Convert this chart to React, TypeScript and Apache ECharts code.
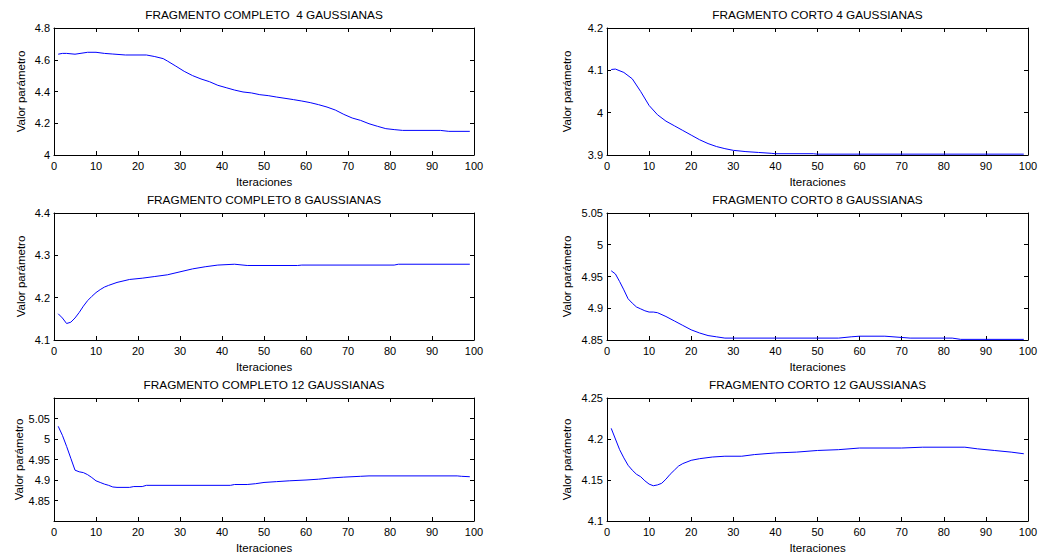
import React, { useEffect, useRef } from "react";
import * as echarts from "echarts";

// Iteration axis
const xTicks = [0, 10, 20, 30, 40, 50, 60, 70, 80, 90, 100];

// FRAGMENTO COMPLETO 4 GAUSSIANAS
const compC4X = [1, 2, 3, 5, 8, 10, 12, 14, 17, 22, 24, 26, 27, 29, 31, 33, 35, 37, 39, 41, 43, 45, 47, 49, 51, 53, 55, 57, 59, 61, 63, 65, 67, 69, 71, 73, 75, 77, 79, 81, 83, 92, 94, 99];
const compC4Y = [4.635, 4.64, 4.64, 4.635, 4.647, 4.647, 4.64, 4.636, 4.63, 4.63, 4.62, 4.607, 4.592, 4.56, 4.527, 4.5, 4.479, 4.462, 4.439, 4.424, 4.409, 4.397, 4.391, 4.38, 4.374, 4.365, 4.357, 4.349, 4.34, 4.33, 4.317, 4.302, 4.283, 4.256, 4.233, 4.218, 4.197, 4.181, 4.166, 4.16, 4.155, 4.155, 4.149, 4.149];

// FRAGMENTO CORTO 4 GAUSSIANAS
const cortC4X = [1, 2, 4, 6, 8, 10, 12, 14, 16, 18, 20, 22, 24, 26, 28, 30, 33, 36, 39, 40, 49, 50, 99];
const cortC4Y = [4.102, 4.103, 4.095, 4.08, 4.05, 4.017, 3.995, 3.98, 3.969, 3.958, 3.947, 3.936, 3.927, 3.92, 3.915, 3.911, 3.908, 3.906, 3.904, 3.903, 3.903, 3.902, 3.902];

// FRAGMENTO COMPLETO 8 GAUSSIANAS
const compC8X = [1, 2, 3, 4, 5, 6, 7, 8, 9, 10, 11, 12, 13, 15, 18, 21, 24, 27, 30, 33, 36, 39, 43, 46, 58, 59, 81, 82, 99];
const compC8Y = [4.162, 4.152, 4.139, 4.142, 4.152, 4.165, 4.18, 4.193, 4.203, 4.212, 4.219, 4.225, 4.229, 4.236, 4.243, 4.246, 4.25, 4.254, 4.261, 4.268, 4.273, 4.277, 4.279, 4.276, 4.276, 4.277, 4.277, 4.279, 4.279];

// FRAGMENTO CORTO 8 GAUSSIANAS
const cortC8X = [1, 2, 3, 4, 5, 6, 7, 8, 9, 10, 11, 12, 14, 16, 18, 20, 22, 24, 26, 28, 30, 55, 58, 60, 66, 70, 72, 82, 84, 99];
const cortC8Y = [4.959, 4.954, 4.942, 4.929, 4.915, 4.908, 4.902, 4.899, 4.896, 4.894, 4.894, 4.893, 4.887, 4.88, 4.873, 4.866, 4.861, 4.857, 4.855, 4.853, 4.853, 4.853, 4.855, 4.856, 4.856, 4.854, 4.853, 4.853, 4.851, 4.851];

// FRAGMENTO COMPLETO 12 GAUSSIANAS
const compC12X = [1, 2, 3, 4, 5, 6, 7, 8, 9, 10, 11, 12, 13, 14, 15, 18, 19, 21, 22, 42, 43, 46, 48, 50, 53, 56, 60, 63, 66, 69, 73, 75, 96, 97, 99];
const compC12Y = [5.031, 5.009, 4.982, 4.953, 4.924, 4.92, 4.918, 4.913, 4.906, 4.898, 4.894, 4.89, 4.887, 4.883, 4.882, 4.882, 4.884, 4.884, 4.887, 4.887, 4.889, 4.889, 4.891, 4.894, 4.896, 4.898, 4.9, 4.902, 4.905, 4.907, 4.909, 4.91, 4.91, 4.909, 4.908];

// FRAGMENTO CORTO 12 GAUSSIANAS
const cortC12X = [1, 2, 3, 4, 5, 6, 7, 8, 9, 10, 11, 12, 13, 14, 15, 16, 17, 18, 19, 20, 22, 25, 28, 32, 35, 40, 45, 50, 55, 60, 70, 75, 85, 88, 92, 96, 99];
const cortC12Y = [4.213, 4.2, 4.187, 4.177, 4.168, 4.162, 4.157, 4.154, 4.149, 4.145, 4.143, 4.144, 4.146, 4.151, 4.157, 4.162, 4.167, 4.17, 4.172, 4.174, 4.176, 4.178, 4.179, 4.179, 4.181, 4.183, 4.184, 4.186, 4.187, 4.189, 4.189, 4.19, 4.19, 4.188, 4.186, 4.184, 4.182];

const titles = [
  "FRAGMENTO COMPLETO  4 GAUSSIANAS",
  "FRAGMENTO CORTO 4 GAUSSIANAS",
  "FRAGMENTO COMPLETO 8 GAUSSIANAS",
  "FRAGMENTO CORTO 8 GAUSSIANAS",
  "FRAGMENTO COMPLETO 12 GAUSSIANAS",
  "FRAGMENTO CORTO 12 GAUSSIANAS",
];
const xName = "Iteraciones";
const yName = "Valor parámetro";

const yMins = [4, 3.9, 4.1, 4.85, 4.8, 4.1];
const yMaxs = [4.8, 4.2, 4.4, 5.05, 5.1, 4.25];
const yIntervals = [0.2, 0.1, 0.1, 0.05, 0.05, 0.05];
const yHideEnds = [false, false, false, false, true, false];

const seriesX = [compC4X, cortC4X, compC8X, cortC8X, compC12X, cortC12X];
const seriesY = [compC4Y, cortC4Y, compC8Y, cortC8Y, compC12Y, cortC12Y];

const FONT = "'Liberation Sans', Arial, Helvetica, sans-serif";

export default function App() {
  const ref = useRef<HTMLDivElement>(null);
  useEffect(() => {
    document.body.style.margin = "0";
    if (!ref.current) return;
    const chart = echarts.init(ref.current, undefined, { renderer: "svg" });

    const lefts = [54, 607];
    const widths = [420, 421];
    const tops = [28, 213, 398];
    const H = 127;
    const nameGaps = [27, 34];

    const grids: any[] = [];
    const xAxes: any[] = [];
    const yAxes: any[] = [];
    const series: any[] = [];
    const graphics: any[] = [];

    titles.forEach((t, i) => {
      const col = i % 2;
      const row = Math.floor(i / 2);
      const left = lefts[col];
      const width = widths[col];
      const top = tops[row];
      grids.push({ left, top, width, height: H, containLabel: false, show: false });

      const tickStyle = { show: true, inside: true, length: 4, lineStyle: { color: "#000", width: 1 } };
      const lineStyle = { show: true, lineStyle: { color: "#000", width: 1 } };
      const lbl = { color: "#000", fontSize: 11, fontFamily: FONT };

      xAxes.push({
        type: "value",
        gridIndex: i,
        position: "bottom",
        min: xTicks[0],
        max: xTicks[xTicks.length - 1],
        interval: xTicks[1] - xTicks[0],
        axisLine: { ...lineStyle, onZero: false },
        axisTick: tickStyle,
        splitLine: { show: false },
        axisLabel: { ...lbl, margin: 5 },
        name: xName,
        nameLocation: "middle",
        nameGap: 21,
        nameTextStyle: { color: "#000", fontSize: 11.5, fontFamily: FONT },
      });
      xAxes.push({
        type: "value",
        gridIndex: i,
        position: "top",
        min: xTicks[0],
        max: xTicks[xTicks.length - 1],
        interval: xTicks[1] - xTicks[0],
        axisLine: { ...lineStyle, onZero: false },
        axisTick: tickStyle,
        splitLine: { show: false },
        axisLabel: { show: false },
      });

      const mn = yMins[i];
      const mx = yMaxs[i];
      const hide = yHideEnds[i];
      yAxes.push({
        type: "value",
        gridIndex: i,
        position: "left",
        min: mn,
        max: mx,
        interval: yIntervals[i],
        axisLine: { ...lineStyle, onZero: false },
        axisTick: tickStyle,
        splitLine: { show: false },
        axisLabel: {
          ...lbl,
          margin: 4,
          formatter: (v: number) => {
            const r = Math.round(v * 1000) / 1000;
            if (hide && (Math.abs(r - mn) < 1e-9 || Math.abs(r - mx) < 1e-9)) return "";
            return String(r);
          },
        },
        name: yName,
        nameLocation: "middle",
        nameGap: nameGaps[col],
        nameTextStyle: { color: "#000", fontSize: 11.5, fontFamily: FONT },
      });
      yAxes.push({
        type: "value",
        gridIndex: i,
        position: "right",
        min: mn,
        max: mx,
        interval: yIntervals[i],
        axisLine: { ...lineStyle, onZero: false },
        axisTick: tickStyle,
        splitLine: { show: false },
        axisLabel: { show: false },
      });

      series.push({
        type: "line",
        xAxisIndex: 2 * i,
        yAxisIndex: 2 * i,
        data: seriesX[i].map((x, k) => [x, seriesY[i][k]]),
        showSymbol: false,
        symbol: "none",
        lineStyle: { color: "#0000ff", width: 1 },
        silent: true,
      });

      graphics.push({
        type: "text",
        x: left + width / 2,
        y: top - 13,
        style: {
          text: t,
          textAlign: "center",
          textVerticalAlign: "middle",
          fontSize: 11.8,
          fontFamily: FONT,
          fill: "#000",
        },
      });
    });

    chart.setOption({
      animation: false,
      backgroundColor: "#ffffff",
      grid: grids,
      xAxis: xAxes,
      yAxis: yAxes,
      series,
      graphic: graphics,
    });
    return () => chart.dispose();
  }, []);
  return <div ref={ref} style={{ width: 1042, height: 555 }} />;
}
